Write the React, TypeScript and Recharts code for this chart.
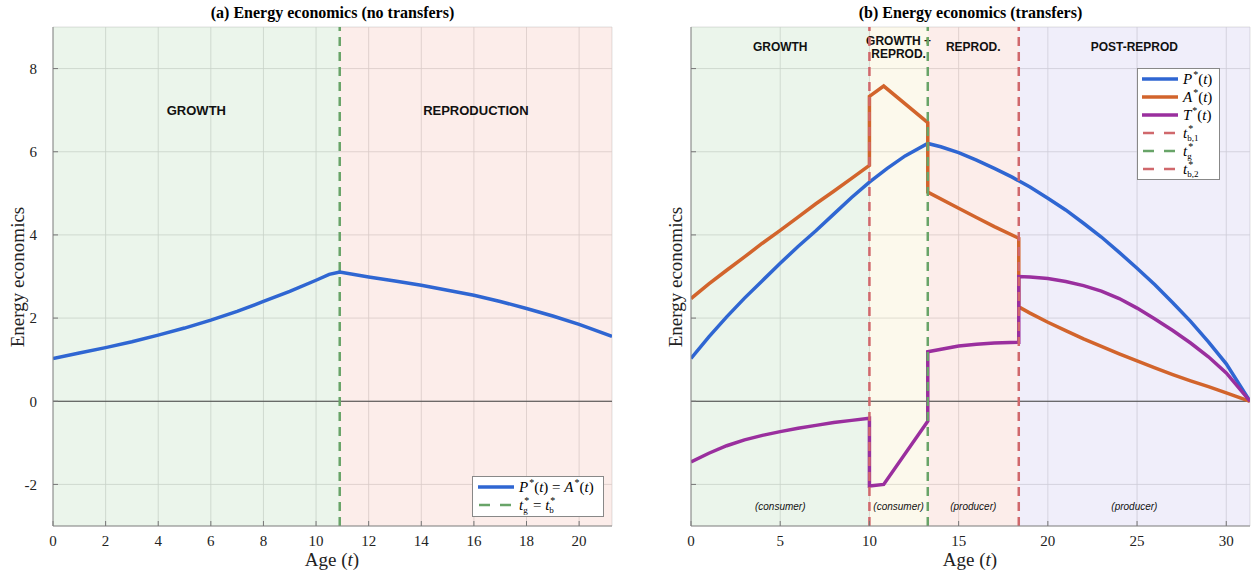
import React from 'react'
import {
  CartesianGrid,
  Line,
  LineChart,
  ReferenceArea,
  ReferenceLine,
  XAxis,
  YAxis,
} from 'recharts'

// (a) no transfers: P*(t) = A*(t)
const ageA = [0, 1, 2, 3, 4, 5, 6, 7, 8, 9, 10, 10.5, 10.9, 12, 13, 14, 15, 16, 17, 18, 19, 20, 21.25]
const energyA = [1.03, 1.16, 1.29, 1.43, 1.59, 1.76, 1.95, 2.16, 2.4, 2.64, 2.91, 3.05, 3.11, 2.99, 2.89, 2.79, 2.67, 2.55, 2.4, 2.23, 2.05, 1.85, 1.56]

// (b) transfers
const ageP = [0, 1, 2, 3, 4, 5, 6, 7, 8, 9, 10, 11, 12, 13.27, 14, 15, 16, 17, 18, 19, 20, 21, 22, 23, 24, 25, 26, 27, 28, 29, 30, 31.33]
const valP = [1.03, 1.55, 2.03, 2.48, 2.9, 3.32, 3.72, 4.1, 4.5, 4.9, 5.27, 5.6, 5.9, 6.2, 6.12, 5.98, 5.8, 5.6, 5.39, 5.15, 4.88, 4.6, 4.28, 3.95, 3.58, 3.2, 2.8, 2.37, 1.92, 1.43, 0.9, 0]

const ageAT = [0, 1, 2, 3, 4, 5, 6, 7, 8, 9, 10, 10, 10.8, 13.27, 13.27, 15, 16, 17, 18.37, 18.37, 19, 20, 21, 22, 23, 24, 25, 26, 27, 28, 29, 30, 31.33]
const valA = [2.47, 2.82, 3.15, 3.47, 3.8, 4.11, 4.43, 4.75, 5.05, 5.36, 5.67, 7.33, 7.58, 6.7, 5.03, 4.64, 4.42, 4.2, 3.92, 2.27, 2.12, 1.9, 1.7, 1.5, 1.32, 1.14, 0.97, 0.8, 0.64, 0.49, 0.35, 0.2, 0]
const valT = [-1.46, -1.25, -1.07, -0.93, -0.82, -0.73, -0.65, -0.58, -0.51, -0.46, -0.41, -2.04, -2.0, -0.48, 1.19, 1.33, 1.37, 1.4, 1.42, 3.0, 2.99, 2.95, 2.88, 2.78, 2.65, 2.47, 2.24, 1.98, 1.7, 1.4, 1.07, 0.68, 0]

const tG = 10.9
const tB1 = 10
const tG2 = 13.27
const tB2 = 18.37

const yTicks = [-2, 0, 2, 4, 6, 8]
const xTicksA = [0, 2, 4, 6, 8, 10, 12, 14, 16, 18, 20]
const xTicksB = [0, 5, 10, 15, 20, 25, 30]

const BLUE = '#2f66d2'
const ORANGE = '#d2642c'
const PURPLE = '#9a2f9e'
const RED_D = '#d0686c'
const GREEN_D = '#68a468'

const serif = '"Liberation Serif", "DejaVu Serif", serif'
const sans = '"Liberation Sans", Arial, sans-serif'

const pts = (xs: number[], ys: number[]) => xs.map((t, i) => ({ t, v: ys[i] }))

function regionLabel(lines: string[], where: 'top' | 'mid' | 'bottom', size = 12, italic = false) {
  return (props: any) => {
    const vb = props.viewBox || {}
    const cx = vb.x + vb.width / 2
    const y0 = where === 'top' ? vb.y + 24 : where === 'mid' ? vb.y + 88 : vb.y + vb.height - 16
    const lh = size + 1
    const start = y0 - ((lines.length - 1) * lh) / 2
    return (
      <text
        textAnchor="middle"
        fontFamily={sans}
        fontSize={size}
        fontWeight={italic ? 400 : 700}
        fontStyle={italic ? 'italic' : 'normal'}
        fill="#111"
      >
        {lines.map((l, i) => (
          <tspan key={i} x={cx} y={start + i * lh}>
            {l}
          </tspan>
        ))}
      </text>
    )
  }
}

const tickStyle = { fontFamily: serif, fontSize: 15, fill: '#222' }

// italic symbol with a * superscript and optional roman subscript
function Star({ base, sub, w = 6 }: { base: string; sub?: string; w?: number }) {
  return (
    <span>
      <i>{base}</i>
      <span style={{ display: 'inline-block', position: 'relative', width: w, height: 0 }}>
        <span style={{ position: 'absolute', left: 1, top: -15, fontSize: 10, lineHeight: '11px' }}>*</span>
        {sub ? (
          <span style={{ position: 'absolute', left: 0, top: -5, fontSize: 9, lineHeight: '10px', whiteSpace: 'nowrap' }}>{sub}</span>
        ) : null}
      </span>
    </span>
  )
}

function LegendRow({ color, dashed, children }: { color: string; dashed?: boolean; children: React.ReactNode }) {
  return (
    <div style={{ display: 'flex', alignItems: 'center', height: 18 }}>
      <svg width={36} height={6} style={{ marginRight: 5, flex: 'none' }}>
        <line
          x1={dashed ? 1 : 0}
          y1={3}
          x2={36}
          y2={3}
          stroke={color}
          strokeWidth={dashed ? 2.5 : 3.5}
          strokeDasharray={dashed ? '11 10' : undefined}
        />
      </svg>
      <span style={{ fontFamily: serif, fontSize: 15, whiteSpace: 'nowrap', lineHeight: '18px' }}>{children}</span>
    </div>
  )
}

export default function App() {
  const dataA = pts(ageA, energyA)
  const dataP = pts(ageP, valP)
  const dataAb = pts(ageAT, valA)
  const dataT = pts(ageAT, valT)

  return (
    <div style={{ position: 'absolute', left: 0, top: 0, width: 1252, height: 575, background: '#fff' }}>
      {/* titles */}
      <div style={{ position: 'absolute', left: 53, width: 559, top: 4, textAlign: 'center', fontFamily: serif, fontWeight: 700, fontSize: 16 }}>
        (a) Energy economics (no transfers)
      </div>
      <div style={{ position: 'absolute', left: 691, width: 559, top: 4, textAlign: 'center', fontFamily: serif, fontWeight: 700, fontSize: 16 }}>
        (b) Energy economics (transfers)
      </div>

      {/* panel (a) */}
      <div style={{ position: 'absolute', left: 0, top: 0 }}>
        <LineChart width={620} height={575} margin={{ top: 27, right: 8, bottom: 0, left: 0 }}>
          <CartesianGrid stroke="#d9d9d9" strokeOpacity={0.8} />
          <ReferenceArea x1={0} x2={tG} fill="#3c9b3c" fillOpacity={0.1} strokeOpacity={0} label={regionLabel(['GROWTH'], 'mid', 13)} />
          <ReferenceArea x1={tG} x2={21.25} fill="#e05030" fillOpacity={0.1} strokeOpacity={0} label={regionLabel(['REPRODUCTION'], 'mid', 13)} />
          <XAxis
            dataKey="t"
            type="number"
            domain={[0, 21.25]}
            ticks={xTicksA}
            allowDataOverflow
            height={49}
            tick={tickStyle}
            tickLine={{ stroke: '#777' }}
            tickSize={-5}
            tickMargin={14}
            stroke="#888"
          />
          <YAxis
            type="number"
            domain={[-3, 9]}
            ticks={yTicks}
            allowDataOverflow
            width={53}
            tick={tickStyle}
            tickLine={{ stroke: '#777' }}
            tickSize={-5}
            tickMargin={21}
            stroke="#888"
          />
          <ReferenceLine y={0} stroke="#444" strokeWidth={1} />
          <ReferenceLine x={tG} stroke={GREEN_D} strokeWidth={2.5} strokeDasharray="9 6" />
          <Line data={dataA} dataKey="v" type="linear" stroke={BLUE} strokeWidth={3.5} dot={false} isAnimationActive={false} />
        </LineChart>
      </div>

      {/* panel (b) */}
      <div style={{ position: 'absolute', left: 640, top: 0 }}>
        <LineChart width={612} height={575} margin={{ top: 27, right: 2, bottom: 0, left: 0 }}>
          <CartesianGrid stroke="#d9d9d9" strokeOpacity={0.8} />
          <ReferenceArea x1={0} x2={tB1} fill="#3c9b3c" fillOpacity={0.1} strokeOpacity={0}
            label={(p: any) => (<g>{regionLabel(['GROWTH'], 'top', 12)(p)}{regionLabel(['(consumer)'], 'bottom', 10, true)(p)}</g>)} />
          <ReferenceArea x1={tB1} x2={tG2} fill="#e0c040" fillOpacity={0.1} strokeOpacity={0}
            label={(p: any) => (<g>{regionLabel(['GROWTH +', 'REPROD.'], 'top', 12)(p)}{regionLabel(['(consumer)'], 'bottom', 10, true)(p)}</g>)} />
          <ReferenceArea x1={tG2} x2={tB2} fill="#e05030" fillOpacity={0.1} strokeOpacity={0}
            label={(p: any) => (<g>{regionLabel(['REPROD.'], 'top', 12)(p)}{regionLabel(['(producer)'], 'bottom', 10, true)(p)}</g>)} />
          <ReferenceArea x1={tB2} x2={31.33} fill="#6a5acd" fillOpacity={0.1} strokeOpacity={0}
            label={(p: any) => (<g>{regionLabel(['POST-REPROD'], 'top', 12)(p)}{regionLabel(['(producer)'], 'bottom', 10, true)(p)}</g>)} />
          <XAxis
            dataKey="t"
            type="number"
            domain={[0, 31.33]}
            ticks={xTicksB}
            allowDataOverflow
            height={49}
            tick={tickStyle}
            tickLine={{ stroke: '#777' }}
            tickSize={-5}
            tickMargin={14}
            stroke="#888"
          />
          <YAxis
            type="number"
            domain={[-3, 9]}
            ticks={yTicks}
            allowDataOverflow
            width={51}
            tickFormatter={() => ''}
            tickLine={{ stroke: '#777' }}
            tickSize={-5}
            stroke="#888"
          />
          <ReferenceLine y={0} stroke="#444" strokeWidth={1} />
          <Line data={dataP} dataKey="v" type="linear" stroke={BLUE} strokeWidth={3.5} dot={false} isAnimationActive={false} />
          <Line data={dataAb} dataKey="v" type="linear" stroke={ORANGE} strokeWidth={3.5} dot={false} isAnimationActive={false} />
          <Line data={dataT} dataKey="v" type="linear" stroke={PURPLE} strokeWidth={3.5} dot={false} isAnimationActive={false} />
          <ReferenceLine x={tB1} stroke={RED_D} strokeWidth={2.5} strokeDasharray="9 6" />
          <ReferenceLine x={tG2} stroke={GREEN_D} strokeWidth={2.5} strokeDasharray="9 6" />
          <ReferenceLine x={tB2} stroke={RED_D} strokeWidth={2.5} strokeDasharray="9 6" />
        </LineChart>
      </div>

      {/* axis labels */}
      {[332, 970].map((cx, i) => (
        <div key={i} style={{ position: 'absolute', left: cx - 60, width: 120, top: 549, textAlign: 'center', fontFamily: serif, fontSize: 19, color: '#222' }}>
          Age (<i>t</i>)
        </div>
      ))}
      {[18, 676].map((cx, i) => (
        <div
          key={i}
          style={{
            position: 'absolute',
            left: cx - 100,
            top: 277 - 12,
            width: 200,
            height: 24,
            lineHeight: '24px',
            textAlign: 'center',
            transform: 'rotate(-90deg)',
            fontFamily: serif,
            fontSize: 19,
            color: '#222',
          }}
        >
          Energy economics
        </div>
      ))}

      {/* legend (a) */}
      <div style={{ position: 'absolute', left: 472, top: 476, width: 125, height: 38, border: '1px solid #888', background: '#fff', padding: '1px 0 0 5px' }}>
        <LegendRow color={BLUE}>
          <Star base="P" />(<i>t</i>) = <Star base="A" />(<i>t</i>)
        </LegendRow>
        <LegendRow color={GREEN_D} dashed>
          <Star base="t" sub="g" /> = <Star base="t" sub="b" />
        </LegendRow>
      </div>

      {/* legend (b) */}
      <div style={{ position: 'absolute', left: 1137, top: 68, width: 77, height: 109, border: '1px solid #888', background: '#fff', padding: '1px 0 0 4px' }}>
        <LegendRow color={BLUE}>
          <Star base="P" />(<i>t</i>)
        </LegendRow>
        <LegendRow color={ORANGE}>
          <Star base="A" />(<i>t</i>)
        </LegendRow>
        <LegendRow color={PURPLE}>
          <Star base="T" />(<i>t</i>)
        </LegendRow>
        <LegendRow color={RED_D} dashed>
          <Star base="t" sub="b,1" w={14} />
        </LegendRow>
        <LegendRow color={GREEN_D} dashed>
          <Star base="t" sub="g" />
        </LegendRow>
        <LegendRow color={RED_D} dashed>
          <Star base="t" sub="b,2" w={14} />
        </LegendRow>
      </div>
    </div>
  )
}
